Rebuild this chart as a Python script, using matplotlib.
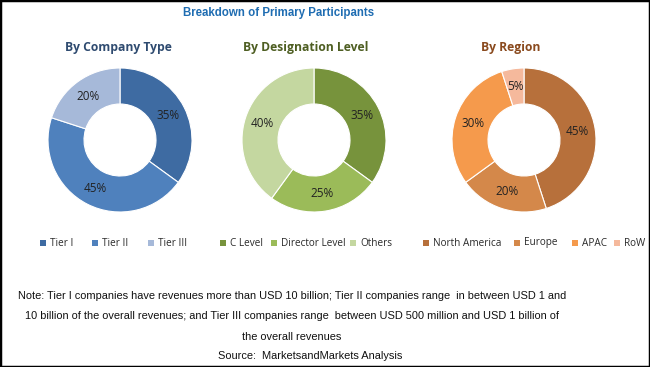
import matplotlib.pyplot as plt
from matplotlib.patches import Rectangle

# data
company_labels = ['Tier I', 'Tier II', 'Tier III']
company_values = [35, 45, 20]
designation_labels = ['C Level', 'Director Level', 'Others']
designation_values = [35, 25, 40]
region_labels = ['North America', 'Europe', 'APAC', 'RoW']
region_values = [45, 20, 30, 5]

company_colors = ['#3E6BA2', '#4F81BD', '#A6B9D9']
designation_colors = ['#77933C', '#9BBB59', '#C4D7A0']
region_colors = ['#B7703B', '#D4884A', '#F59A4C', '#F5B99C']

W, H = 650, 367
fig = plt.figure(figsize=(6.5, 3.67), dpi=100)
fig.patch.set_facecolor('white')
fig.patches.append(Rectangle((0, 0), 1, 1, transform=fig.transFigure,
                             fill=False, edgecolor='black', linewidth=2.5))

def px(x, y):
    return x / W, 1 - y / H

panels = [
    (company_values, company_colors, 120, 'By Company Type', 118, '#2F4B70'),
    (designation_values, designation_colors, 314, 'By Designation Level', 306, '#4E5E22'),
    (region_values, region_colors, 524, 'By Region', 511, '#8A4A1E'),
]

r = 72
for vals, cols, cx, title, tx, tcol in panels:
    ax = fig.add_axes([(cx - r) / W, (H - 140 - r) / H, 2 * r / W, 2 * r / H])
    ax.pie(vals, colors=cols, startangle=90, counterclock=False,
           autopct='%d%%', pctdistance=0.75,
           wedgeprops=dict(width=0.5, edgecolor='white', linewidth=0.8),
           textprops=dict(fontsize=8.5, color='#222222', family='Open Sans'))
    ax.set_xlim(-1, 1)
    ax.set_ylim(-1, 1)
    ax.set_aspect('equal')
    ax.axis('off')
    x, y = px(tx, 48)
    fig.text(x, y, title, ha='center', va='center', fontsize=8.7, fontweight='bold',
             color=tcol, family='Open Sans')

# legends
legend_items = [
    (company_labels, company_colors, [43, 95, 151]),
    (designation_labels, designation_colors, [223, 274, 353]),
    (region_labels, region_colors, [426, 517, 575, 617]),
]
for labs, cols, xs in legend_items:
    for lab, col, lx in zip(labs, cols, xs):
        x, y = px(lx, 243)
        fig.patches.append(Rectangle((x - 3 / W, y - 3 / H), 6 / W, 6 / H,
                                     transform=fig.transFigure, facecolor=col, edgecolor='none'))
        x2, _ = px(lx + 7, 243)
        fig.text(x2, y, lab, ha='left', va='center', fontsize=7.2, color='#2A2A2A',
                 family='Open Sans')

# main title
x, y = px(279, 13)
fig.text(x, y, 'Breakdown of Primary Participants', ha='center', va='center',
         fontsize=8.3, fontweight='bold', color='#1F6DB2', family='Liberation Sans')

note_font = ['Liberation Sans Narrow', 'Liberation Sans']
note_lines = [
    'Note: Tier I companies have revenues more than USD 10 billion; Tier II companies range  in between USD 1 and',
    '10 billion of the overall revenues; and Tier III companies range  between USD 500 million and USD 1 billion of',
    'the overall revenues',
]
for line, ly in zip(note_lines, [296, 316, 337]):
    x, y = px(292, ly)
    fig.text(x, y, line, ha='center', va='center', fontsize=7.9, color='#111111',
             family=note_font)
x, y = px(310, 356)
fig.text(x, y, 'Source:  MarketsandMarkets Analysis', ha='center', va='center', fontsize=7.9,
         color='#111111', family=note_font)

fig.savefig('out.png', dpi=100)
